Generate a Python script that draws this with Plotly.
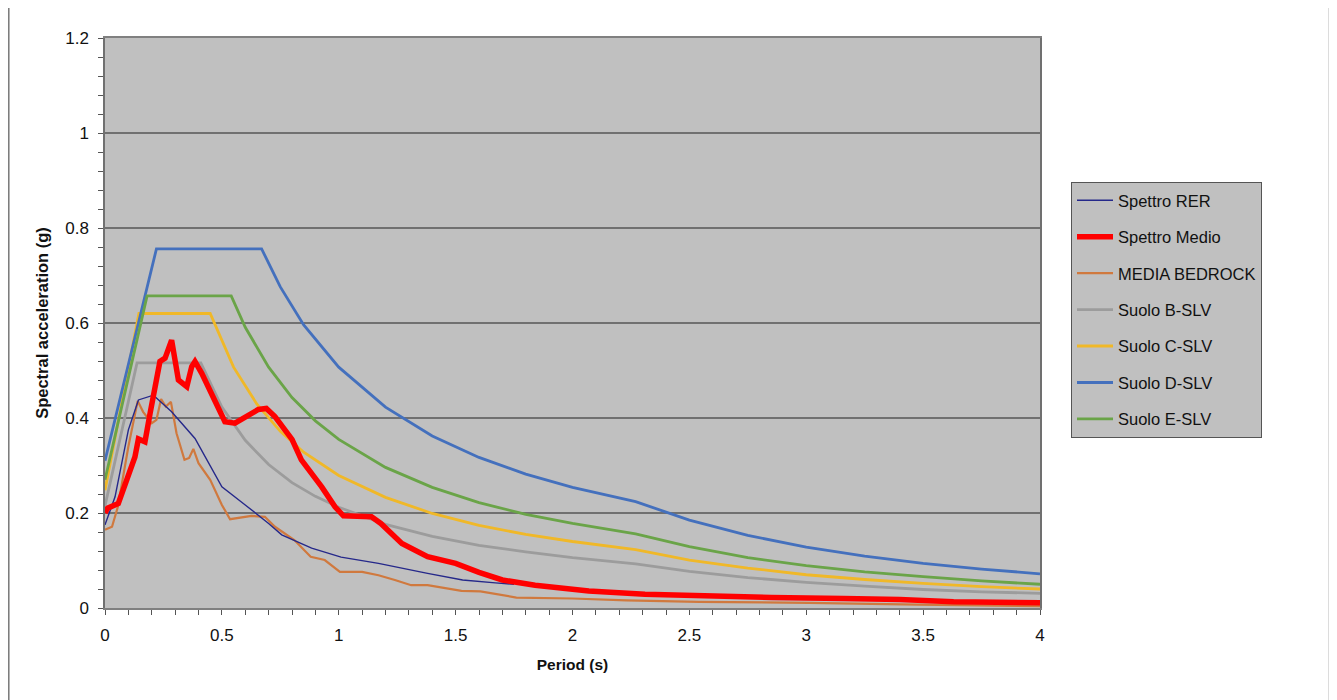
import plotly.graph_objects as go

# ---- data ----
t_rer = [0.0, 0.043, 0.10, 0.143, 0.207, 0.285, 0.385, 0.50, 0.60, 0.70, 0.756, 0.884, 1.01, 1.17, 1.38, 1.53, 1.67, 1.75]
y_rer = [0.175, 0.234, 0.375, 0.438, 0.448, 0.413, 0.357, 0.255, 0.217, 0.178, 0.154, 0.126, 0.107, 0.094, 0.073, 0.059, 0.053, 0.050]

t_medio = [0.0, 0.011, 0.057, 0.10, 0.128, 0.143, 0.171, 0.193, 0.235, 0.257, 0.285, 0.314, 0.35, 0.371, 0.385,
           0.414, 0.463, 0.513, 0.556, 0.613, 0.656, 0.69, 0.727, 0.80, 0.84, 0.927, 0.984, 1.02, 1.08, 1.14,
           1.18, 1.27, 1.38, 1.50, 1.60, 1.70, 1.84, 2.07, 2.31, 2.54, 2.85, 3.16, 3.40, 3.63, 4.0]
y_medio = [0.20, 0.21, 0.220, 0.276, 0.318, 0.356, 0.350, 0.41, 0.519, 0.526, 0.564, 0.48, 0.466, 0.508, 0.519,
           0.494, 0.445, 0.392, 0.389, 0.406, 0.418, 0.42, 0.403, 0.355, 0.312, 0.255, 0.213, 0.194, 0.192, 0.192,
           0.178, 0.136, 0.108, 0.094, 0.075, 0.059, 0.048, 0.036, 0.029, 0.025, 0.022, 0.020, 0.018, 0.013, 0.011]

t_bedrock = [0.0, 0.03, 0.055, 0.10, 0.14, 0.163, 0.20, 0.22, 0.24, 0.26, 0.282, 0.306, 0.34, 0.36, 0.378, 0.40,
             0.45, 0.50, 0.535, 0.585, 0.627, 0.684, 0.727, 0.81, 0.88, 0.94, 1.005, 1.10, 1.17, 1.24, 1.31, 1.38,
             1.525, 1.606, 1.70, 1.76, 2.0, 2.23, 2.54, 3.01, 3.48, 4.0]
y_bedrock = [0.165, 0.171, 0.213, 0.34, 0.436, 0.413, 0.389, 0.396, 0.44, 0.424, 0.434, 0.368, 0.312, 0.316, 0.335, 0.305,
             0.27, 0.217, 0.187, 0.191, 0.194, 0.192, 0.171, 0.143, 0.108, 0.101, 0.076, 0.076, 0.069, 0.059, 0.048, 0.048,
             0.036, 0.035, 0.027, 0.022, 0.020, 0.016, 0.013, 0.011, 0.007, 0.004]

t_b = [0.0, 0.137, 0.41, 0.5, 0.6, 0.7, 0.8, 0.9, 1.0, 1.2, 1.4, 1.6, 1.8, 2.0, 2.27, 2.5, 2.75, 3.0, 3.25, 3.5, 3.75, 4.0]
y_b = [0.215, 0.516, 0.516, 0.423, 0.353, 0.302, 0.264, 0.235, 0.212, 0.176, 0.151, 0.132, 0.118, 0.106, 0.093, 0.077, 0.064, 0.054, 0.046, 0.039, 0.034, 0.031]

t_c = [0.0, 0.145, 0.45, 0.55, 0.65, 0.75, 0.85, 1.0, 1.2, 1.4, 1.6, 1.8, 2.0, 2.27, 2.5, 2.75, 3.0, 3.25, 3.5, 3.75, 4.0]
y_c = [0.248, 0.62, 0.62, 0.507, 0.429, 0.372, 0.328, 0.279, 0.233, 0.199, 0.174, 0.155, 0.140, 0.123, 0.101, 0.084, 0.070, 0.060, 0.052, 0.045, 0.040]

t_d = [0.0, 0.22, 0.67, 0.75, 0.85, 1.0, 1.2, 1.4, 1.6, 1.8, 2.0, 2.27, 2.5, 2.75, 3.0, 3.25, 3.5, 3.75, 4.0]
y_d = [0.31, 0.756, 0.756, 0.676, 0.596, 0.507, 0.423, 0.362, 0.317, 0.282, 0.254, 0.224, 0.185, 0.153, 0.128, 0.109, 0.094, 0.082, 0.072]

t_e = [0.0, 0.18, 0.54, 0.6, 0.7, 0.8, 0.9, 1.0, 1.2, 1.4, 1.6, 1.8, 2.0, 2.27, 2.5, 2.75, 3.0, 3.25, 3.5, 3.75, 4.0]
y_e = [0.27, 0.657, 0.657, 0.591, 0.507, 0.443, 0.394, 0.355, 0.296, 0.254, 0.222, 0.197, 0.178, 0.156, 0.129, 0.106, 0.089, 0.076, 0.066, 0.057, 0.050]

x_ticks = [0, 0.5, 1, 1.5, 2, 2.5, 3, 3.5, 4]
x_ticklabels = ["0", "0.5", "1", "1.5", "2", "2.5", "3", "3.5", "4"]
y_ticks = [0, 0.2, 0.4, 0.6, 0.8, 1.0, 1.2]
y_ticklabels = ["0", "0.2", "0.4", "0.6", "0.8", "1", "1.2"]

series = [
    ("Spettro RER", t_rer, y_rer, "#25288a", 1.4),
    ("Spettro Medio", t_medio, y_medio, "#ff0000", 5.5),
    ("MEDIA BEDROCK", t_bedrock, y_bedrock, "#d0793e", 2.2),
    ("Suolo B-SLV", t_b, y_b, "#9c9c9c", 2.8),
    ("Suolo C-SLV", t_c, y_c, "#f0b828", 2.8),
    ("Suolo D-SLV", t_d, y_d, "#4470bd", 2.8),
    ("Suolo E-SLV", t_e, y_e, "#6aa448", 2.8),
]

FONT = "Liberation Sans, Arial, sans-serif"

W, H = 1329, 692
L, T, PW, PH = 97, 30, 935, 570

fig = go.Figure()
# draw order: soil spectra first, then bedrock, RER, and the mean on top
draw_order = [3, 4, 5, 6, 2, 0, 1]
for idx in draw_order:
    name, tx, ty, col, w = series[idx]
    fig.add_trace(go.Scatter(
        x=tx, y=ty, name=name, mode="lines",
        line=dict(color=col, width=w),
        legendgroup=name, legendrank=idx + 1,
    ))

fig.update_layout(
    width=W, height=H,
    margin=dict(l=L, r=W - L - PW, t=T, b=H - T - PH, autoexpand=False),
    paper_bgcolor="white",
    plot_bgcolor="#c0c0c0",
    font=dict(family=FONT, size=16, color="#111111"),
    showlegend=True,
    legend=dict(
        x=(1063 - L) / PW, y=(T + PH - 174) / PH, xanchor="left", yanchor="top",
        bgcolor="#c0c0c0", bordercolor="#555555", borderwidth=1,
        font=dict(family=FONT, size=16.5, color="#111111"),
        tracegroupgap=12, itemwidth=36,
        traceorder="grouped",
    ),
    xaxis=dict(
        range=[0, 4], tickmode="array", tickvals=x_ticks, ticktext=x_ticklabels,
        showgrid=False, zeroline=False,
        showline=True, linecolor="#808080", linewidth=1.5, mirror=True,
        ticks="outside", ticklen=5, tickcolor="#555555", ticklabelstandoff=6,
        minor=dict(dtick=0.1, ticks="outside", ticklen=5, tickcolor="#555555", showgrid=False),
        title=dict(text="<b>Period (s)</b>", font=dict(size=15.5, family=FONT), standoff=15),
        tickfont=dict(size=17),
    ),
    yaxis=dict(
        range=[0, 1.2], tickmode="array", tickvals=y_ticks, ticktext=y_ticklabels,
        showgrid=True, gridcolor="#707070", gridwidth=1.5, zeroline=False,
        showline=True, linecolor="#707070", linewidth=1.5, mirror=True,
        ticks="outside", ticklen=5, tickcolor="#555555", ticklabelstandoff=6,
        minor=dict(dtick=0.04, ticks="outside", ticklen=5, tickcolor="#555555", showgrid=False),
        title=dict(text="<b>Spectral acceleration (g)</b>", font=dict(size=16.5, family=FONT), standoff=12),
        tickfont=dict(size=17),
    ),
)

# outer frame of the picture
fig.add_shape(type="line", xref="paper", yref="paper",
              x0=(0.8 - L) / PW, x1=(0.8 - L) / PW, y0=(T + PH - H) / PH, y1=(T + PH) / PH,
              line=dict(color="#777777", width=1.5))
fig.add_shape(type="line", xref="paper", yref="paper",
              x0=(1321 - L) / PW, x1=(1321 - L) / PW, y0=(T + PH - H) / PH, y1=(T + PH) / PH,
              line=dict(color="#d0d0d0", width=1.5))

fig.write_html("out.html")
